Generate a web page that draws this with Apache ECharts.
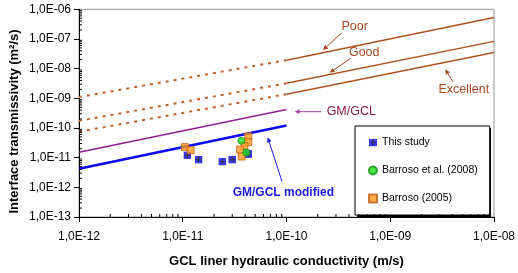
<!DOCTYPE html>
<html>
<head>
<meta charset="utf-8">
<script src="https://cdn.jsdelivr.net/npm/echarts@6/dist/echarts.min.js"></script>
<style>
  html, body { margin: 0; padding: 0; background: #fff; }
  #chart { width: 518px; height: 273px; }
</style>
</head>
<body>
<div id="chart"></div>
<script>
// tick labels (decades)
var xTicks = [1e-12, 1e-11, 1e-10, 1e-9, 1e-8];
var yTicks = [1e-13, 1e-12, 1e-11, 1e-10, 1e-9, 1e-8, 1e-7, 1e-6];

// contact condition lines: dotted 1e-12..1e-10, solid 1e-10..1e-8
var lineK = [1e-12, 1e-10, 1e-8];
var poorT = [1.1e-9, 1.93e-8, 5.3e-7];
var goodT = [1.74e-10, 3.2e-9, 8.3e-8];
var excellentT = [7.5e-11, 1.38e-9, 3.5e-8];

// GM/GCL lines
var gmK = [1e-12, 1e-10];
var gmT = [1.52e-11, 4.2e-10];
var gmModT = [4.2e-12, 1.22e-10];

// measured points
var studyK = [1.11e-11, 1.42e-11, 2.41e-11, 3.0e-11, 4.28e-11];
var studyT = [1.19e-11, 8.6e-12, 7.4e-12, 8.6e-12, 1.34e-11];
var b2008K = [3.67e-11, 4.1e-11];
var b2008T = [3.7e-11, 1.5e-11];
var b2005K = [1.05e-11, 1.19e-11, 4.28e-11, 4.28e-11, 3.94e-11, 3.57e-11, 3.7e-11];
var b2005T = [2.26e-11, 1.78e-11, 5.2e-11, 3.37e-11, 2.48e-11, 1.87e-11, 1.09e-11];

// minor ticks 2..9 in each decade
function minorTicks(lo, hi) {
    var res = [];
    for (var e = lo; e < hi; e++) {
        for (var d = 2; d <= 9; d++) res.push(d * Math.pow(10, e));
    }
    return res;
}
function zip(a, b) { return a.map(function(v, i) { return [v, b[i]]; }); }
function fmt(v) {
    var e = Math.round(Math.log10(v));
    return '1,0E' + (e < 0 ? '-' : '+') + String(Math.abs(e)).padStart(2, '0');
}

var FONT = 'Liberation Sans';
var brown = '#B0521E';
var brownDot = '#C0602A';

var studyIcon = 'image://data:image/svg+xml;utf8,' + encodeURIComponent(
    "<svg xmlns='http://www.w3.org/2000/svg' width='16' height='16'>" +
    "<rect width='16' height='16' fill='#0808F0'/>" +
    "<path d='M8 2.5V13.5M2.5 8H13.5' stroke='#000' stroke-width='2.2'/></svg>");

// annotation helper: line with a small arrow head at (x2, y2)
function arrow(x1, y1, x2, y2, color) {
    var a = Math.atan2(y2 - y1, x2 - x1), L = 5, W = 2.4;
    var bx = x2 - L * Math.cos(a), by = y2 - L * Math.sin(a);
    return [
        { type: 'line', shape: { x1: x1, y1: y1, x2: bx, y2: by },
          style: { stroke: color, lineWidth: 1 }, z: 10 },
        { type: 'polygon', shape: { points: [[x2, y2],
            [bx + W * Math.sin(a), by - W * Math.cos(a)],
            [bx - W * Math.sin(a), by + W * Math.cos(a)]] },
          style: { fill: color }, z: 10 }
    ];
}
function label(text, x, y, color, size, bold) {
    return { type: 'text', x: x, y: y, z: 10,
        style: { text: text, fill: color, align: 'center', verticalAlign: 'middle',
                 font: (bold ? 'bold ' : '') + size + 'px "' + FONT + '"' } };
}

var graphics = []
    .concat([label('Poor', 354.7, 26.7, '#A5461E', 12.5)])
    .concat(arrow(341.5, 33, 323, 50, '#A5461E'))
    .concat([label('Good', 364.2, 52.7, '#A5461E', 12.5)])
    .concat(arrow(350.5, 58.5, 329.7, 72.7, '#A5461E'))
    .concat([label('Excellent', 463.8, 89.3, '#A5461E', 12.5)])
    .concat(arrow(453, 82, 445.3, 69.3, '#A5461E'))
    .concat([label('GM/GCL', 351.3, 111.7, '#8B1C3F', 12.5)])
    .concat(arrow(321.3, 111.7, 294.7, 111.7, '#A040A0'))
    .concat([label('GM/GCL modified', 283.3, 192.7, '#1A1AE6', 12, true)])
    .concat(arrow(282, 181.5, 267.7, 137.3, '#1A1AE6'))
    // solid shadow behind the legend box
    .concat([{ type: 'rect', shape: { x: 357, y: 128, width: 134, height: 89 },
               style: { fill: '#000' }, z: 3 }])
    .concat([{ type: 'text', x: 14, y: 121.5, rotation: Math.PI / 2, z: 10,
        style: { text: 'Interface transmissivity (m²/s)', fill: '#000',
                 align: 'center', verticalAlign: 'middle',
                 font: 'bold 13px "' + FONT + '"' } }]);

function lineSeries(name, data, color, width, dotted) {
    return { name: name, type: 'line', data: data, symbol: 'none', silent: true,
             lineStyle: { color: color, width: width, type: dotted ? [3, 5] : 'solid' }, z: 2 };
}

// short inside ticks drawn through the axis scales
function minorTickSeries(data, vertical) {
    return {
        type: 'custom', silent: true, z: 6, clip: false, data: data,
        renderItem: function(params, api) {
            var p = api.coord([api.value(0), api.value(1)]);
            return { type: 'line', shape: vertical
                ? { x1: p[0], y1: p[1], x2: p[0], y2: p[1] - 3 }
                : { x1: p[0], y1: p[1], x2: p[0] + 3, y2: p[1] },
                style: { stroke: '#000', lineWidth: 1 } };
        }
    };
}

var chart = echarts.init(document.getElementById('chart'));
var option = {
    animation: false,
    textStyle: { fontFamily: FONT },
    grid: { left: 79, right: 23, top: 9.3, bottom: 54.3, show: true,
            borderColor: '#999', borderWidth: 1 },
    legend: {
        data: ['This study', 'Barroso et al. (2008)', 'Barroso (2005)'],
        orient: 'vertical', left: 355, top: 126, z: 4,
        padding: [10, 12, 10, 13], itemGap: 15,
        itemWidth: 8, itemHeight: 8,
        backgroundColor: '#fff', borderColor: '#000', borderWidth: 1,
        textStyle: { fontSize: 10.5, color: '#000', lineHeight: 13, fontFamily: FONT }
    },
    xAxis: {
        type: 'log', logBase: 10, min: 1e-12, max: 1e-8,
        name: 'GCL liner hydraulic conductivity (m/s)', nameLocation: 'middle', nameGap: 38,
        nameTextStyle: { fontWeight: 'bold', fontSize: 13, color: '#000' },
        axisLine: { lineStyle: { color: '#000', width: 1 } },
        axisTick: { length: 5, customValues: xTicks, lineStyle: { color: '#000' } },
        axisLabel: { customValues: xTicks, formatter: fmt, fontSize: 12, color: '#000', margin: 14 },
        splitLine: { show: false }
    },
    yAxis: {
        type: 'log', logBase: 10, min: 1e-13, max: 1e-6,
        axisLine: { lineStyle: { color: '#000', width: 1 } },
        axisTick: { length: 5, customValues: yTicks, lineStyle: { color: '#000' } },
        axisLabel: { customValues: yTicks, formatter: fmt, fontSize: 12, color: '#000', margin: 8 },
        splitLine: { show: false }
    },
    graphic: graphics,
    series: [
        lineSeries('Poor dotted', zip(lineK.slice(0, 2), poorT.slice(0, 2)), brownDot, 2, true),
        lineSeries('Good dotted', zip(lineK.slice(0, 2), goodT.slice(0, 2)), brownDot, 2, true),
        lineSeries('Excellent dotted', zip(lineK.slice(0, 2), excellentT.slice(0, 2)), brownDot, 2, true),
        lineSeries('Poor', zip(lineK.slice(1), poorT.slice(1)), brown, 1.5),
        lineSeries('Good', zip(lineK.slice(1), goodT.slice(1)), brown, 1.5),
        lineSeries('Excellent', zip(lineK.slice(1), excellentT.slice(1)), brown, 1.5),
        lineSeries('GM/GCL', zip(gmK, gmT), '#8E1F8E', 1.5),
        lineSeries('GM/GCL modified', zip(gmK, gmModT), '#0A0AF5', 2.5),
        {
            name: 'This study', type: 'scatter', data: zip(studyK, studyT),
            symbol: studyIcon, symbolSize: 8, z: 3
        },
        {
            name: 'Barroso (2005)', type: 'scatter', data: zip(b2005K, b2005T),
            symbol: 'rect', symbolSize: 7,
            itemStyle: { color: '#FF9A1A', borderColor: '#C0601A', borderWidth: 1 }, z: 4
        },
        {
            name: 'Barroso et al. (2008)', type: 'scatter', data: zip(b2008K, b2008T),
            symbol: 'circle', symbolSize: 7,
            itemStyle: { color: '#22E022', borderColor: '#109010', borderWidth: 1 }, z: 5
        },
        minorTickSeries(minorTicks(-12, -8).map(function(v) { return [v, 1e-13]; }), true),
        minorTickSeries(minorTicks(-13, -6).map(function(v) { return [1e-12, v]; }), false)
    ]
};
chart.setOption(option);
</script>
</body>
</html>
